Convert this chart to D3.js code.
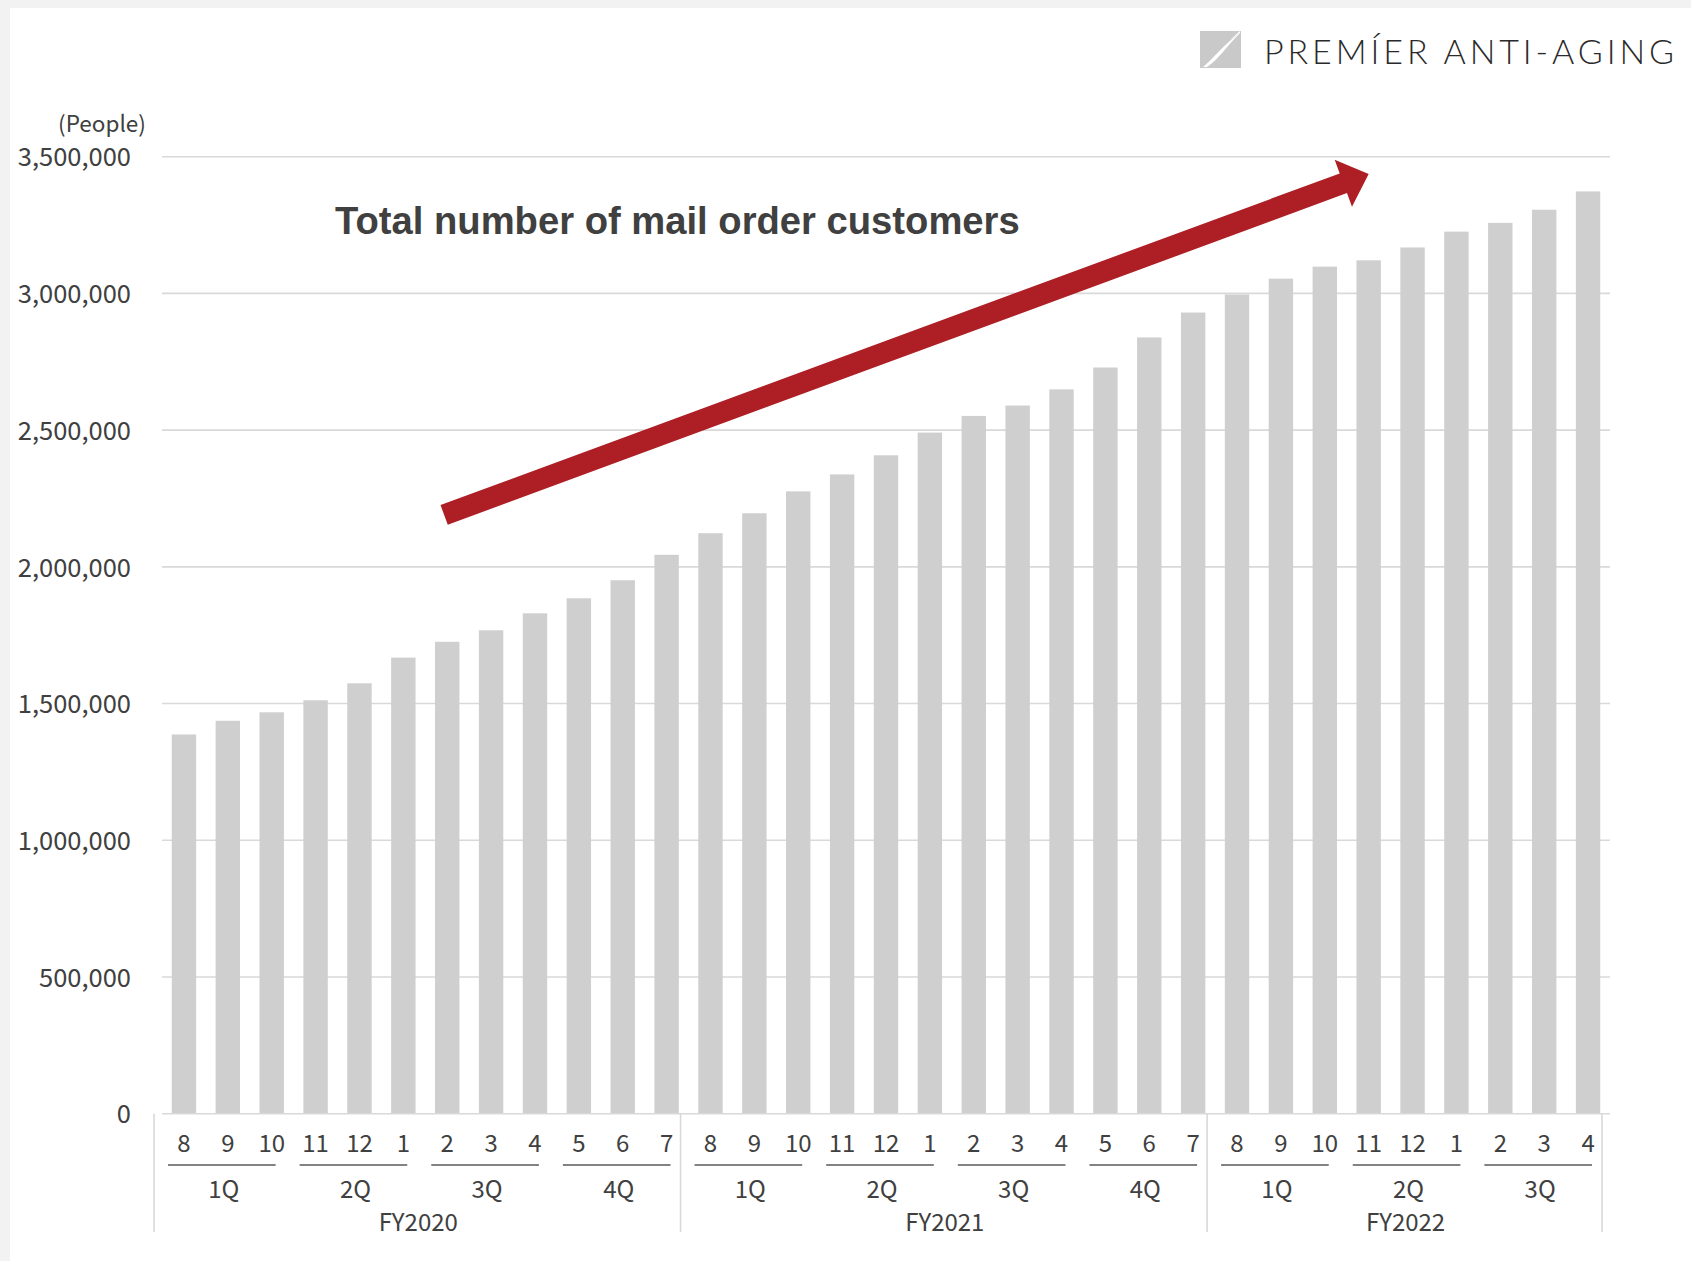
<!DOCTYPE html>
<html>
<head>
<meta charset="utf-8">
<script src="https://cdn.jsdelivr.net/npm/d3@7"></script>
<style>
  html, body { margin: 0; padding: 0; background: #f2f2f2; }
  svg { display: block; }
</style>
</head>
<body>
<script>
// ---------- data ----------
const months = [8,9,10,11,12,1,2,3,4,5,6,7, 8,9,10,11,12,1,2,3,4,5,6,7, 8,9,10,11,12,1,2,3,4];
const customers = [
  1387000,1437000,1468000,1512000,1574000,1668000,1726000,1768000,1830000,1885000,1951000,2044000,
  2123000,2196000,2276000,2338000,2408000,2491000,2552000,2590000,2649000,2729000,2839000,2930000,
  2996000,3054000,3098000,3121000,3168000,3226000,3258000,3306000,3373000
];
const quarters = ["1Q","2Q","3Q","4Q","1Q","2Q","3Q","4Q","1Q","2Q","3Q"];
const quarterSizes = [3,3,3,3,3,3,3,3,3,3,3];
const fiscalYears = ["FY2020","FY2021","FY2022"];
const fiscalSizes = [12,12,9];
const yTicks = [0,500000,1000000,1500000,2000000,2500000,3000000,3500000];
const title = "Total number of mail order customers";
const unitLabel = "(People)";
const logoText = "PREMÍER ANTI-AGING";
// arrow annotation anchors in data space: [band index, value]
const arrowTail = [5.93, 2190000];
const arrowTip  = [27.0, 3437000];

// ---------- layout ----------
const W = 1691, H = 1261;
const plotLeft = 162, plotRight = 1610, plotTop = 156.7, plotBottom = 1113.7;
const axisFont = "'Noto Sans CJK JP', 'Noto Sans', sans-serif";
const textColor = "#404040";

const svg = d3.select("body").append("svg").attr("width", W).attr("height", H);
svg.append("rect").attr("x", 0).attr("y", 0).attr("width", W).attr("height", H).attr("fill", "#f2f2f2");
svg.append("rect").attr("x", 10).attr("y", 8).attr("width", W - 10).attr("height", H - 8).attr("fill", "#ffffff");

const idx = d3.range(customers.length);
const x = d3.scaleBand().domain(idx).range([plotLeft, plotRight]).paddingInner(0.444).paddingOuter(0.222);
const y = d3.scaleLinear().domain([0, 3500000]).range([plotBottom, plotTop]);
const step = x.step();
const xPos = v => plotLeft + (v + 0.5) * step; // band center for fractional index
const boundary = i => plotLeft + i * step;

// gridlines
svg.append("g").selectAll("line").data(yTicks.filter(d => d > 0)).join("line")
  .attr("x1", plotLeft).attr("x2", plotRight)
  .attr("y1", d => y(d)).attr("y2", d => y(d))
  .attr("stroke", "#d9d9d9").attr("stroke-width", 1.6);

// y axis labels
const yAxis = d3.axisLeft(y).tickValues(yTicks).tickFormat(d3.format(",")).tickSize(0).tickPadding(0);
const gy = svg.append("g").attr("transform", `translate(131,0)`).call(yAxis);
gy.select(".domain").remove();
gy.selectAll("text").attr("font-family", axisFont).attr("font-size", 25.5).attr("fill", textColor).attr("dy", "0.36em");

svg.append("text").attr("x", 102).attr("y", 132).attr("text-anchor", "middle")
  .attr("font-family", axisFont).attr("font-size", 22.5).attr("fill", textColor).text(unitLabel);

// bars
svg.append("g").selectAll("rect").data(customers).join("rect")
  .attr("x", (d, i) => x(i)).attr("width", x.bandwidth())
  .attr("y", d => y(d)).attr("height", d => y(0) - y(d))
  .attr("fill", "#d0cfd0");

// baseline
svg.append("line").attr("x1", plotLeft).attr("x2", plotRight).attr("y1", plotBottom).attr("y2", plotBottom)
  .attr("stroke", "#d9d9d9").attr("stroke-width", 1.6);

// month labels
svg.append("g").selectAll("text").data(months).join("text")
  .attr("x", (d, i) => x(i) + x.bandwidth() / 2).attr("y", 1152)
  .attr("text-anchor", "middle").attr("font-family", axisFont).attr("font-size", 24).attr("fill", textColor)
  .text(d => d);

// quarter lines and labels
let qStart = 0;
const qData = quarters.map((q, k) => { const s = qStart; qStart += quarterSizes[k]; return {q, s, n: quarterSizes[k]}; });
const qg = svg.append("g");
qg.selectAll("line").data(qData).join("line")
  .attr("x1", d => boundary(d.s) + 6).attr("x2", d => boundary(d.s + d.n) - 18)
  .attr("y1", 1165).attr("y2", 1165).attr("stroke", "#595959").attr("stroke-width", 1.5);
qg.selectAll("text").data(qData).join("text")
  .attr("x", d => (boundary(d.s) + 6 + boundary(d.s + d.n) - 18) / 2 + 2).attr("y", 1198)
  .attr("text-anchor", "middle").attr("font-family", axisFont).attr("font-size", 24).attr("fill", textColor)
  .text(d => d.q);

// fiscal year separators and labels
let fStart = 0;
const fData = fiscalYears.map((f, k) => { const s = fStart; fStart += fiscalSizes[k]; return {f, s, n: fiscalSizes[k]}; });
const sepIdx = [0].concat(fData.map(d => d.s + d.n));
svg.append("g").selectAll("line").data(sepIdx).join("line")
  .attr("x1", d => boundary(d) - 8).attr("x2", d => boundary(d) - 8)
  .attr("y1", plotBottom).attr("y2", 1232).attr("stroke", "#d9d9d9").attr("stroke-width", 1.6);
svg.append("g").selectAll("text").data(fData).join("text")
  .attr("x", d => (boundary(d.s) + boundary(d.s + d.n)) / 2 - 7).attr("y", 1231)
  .attr("text-anchor", "middle").attr("font-family", axisFont).attr("font-size", 24).attr("fill", textColor)
  .text(d => d.f);

// title
svg.append("text").attr("x", 335).attr("y", 234)
  .attr("font-family", "'Liberation Sans', Arial, sans-serif").attr("font-weight", "bold")
  .attr("font-size", 38.2).attr("fill", "#404040").text(title);

// arrow
(function () {
  const tx = xPos(arrowTail[0]), ty = y(arrowTail[1]);
  const hx = xPos(arrowTip[0]), hy = y(arrowTip[1]);
  const dx = hx - tx, dy = hy - ty, L = Math.hypot(dx, dy);
  const ux = dx / L, uy = dy / L, nx = -uy, ny = ux;
  const sw = 10.5, hw = 25, hl = 27;
  const bx = hx - ux * hl, by = hy - uy * hl;
  const pts = [
    [tx + nx * sw, ty + ny * sw],
    [bx + nx * sw, by + ny * sw],
    [bx + nx * hw, by + ny * hw],
    [hx, hy],
    [bx - nx * hw, by - ny * hw],
    [bx - nx * sw, by - ny * sw],
    [tx - nx * sw, ty - ny * sw]
  ];
  svg.append("path").attr("d", d3.line()(pts) + "Z").attr("fill", "#ae1f25");
})();

// logo
const logo = svg.append("g");
logo.append("rect").attr("x", 1200).attr("y", 31).attr("width", 41).attr("height", 37).attr("fill", "#c9c9c9");
logo.append("path").attr("d", "M1203,67 C1214,58 1222,46 1240,33 C1226,47 1218,60 1207,67 Z").attr("fill", "#ffffff");
logo.append("path").attr("d", "M1229,41 L1240,31 L1240,33 Z").attr("fill", "#ffffff");
logo.append("text").attr("x", 1264).attr("y", 64)
  .attr("font-family", "Lato, 'Noto Sans', sans-serif").attr("font-weight", 300)
  .attr("font-size", 34).attr("fill", "#2a2a2a")
  .attr("textLength", 410).attr("lengthAdjust", "spacing").text(logoText);
</script>
</body>
</html>
